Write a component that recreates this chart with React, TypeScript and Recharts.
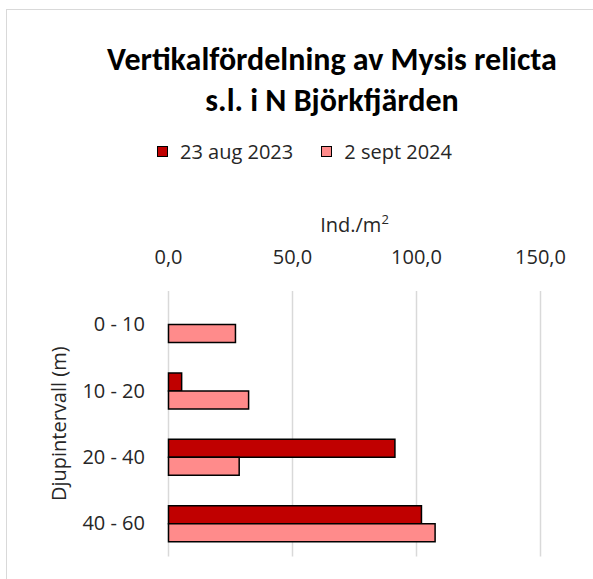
import React from "react";
import { BarChart, Bar, XAxis, YAxis, CartesianGrid, Legend, Label } from "recharts";

const categories = ["0 - 10", "10 - 20", "20 - 40", "40 - 60"];
const aug2023 = [0, 5.3, 91.3, 102.0];
const sept2024 = [27.0, 32.3, 28.5, 107.5];
const xTicks = [0, 50, 100, 150];
const seriesNames = ["23 aug 2023", "2 sept 2024"];
const seriesColors = ["#C00000", "#FF8B8B"];

const data = categories.map((c, i) => ({ cat: c, a: aug2023[i], b: sept2024[i] }));

const FONT = "'Open Sans', 'Liberation Sans', Arial, sans-serif";
const TEXT = "#262626";

const LegendContent = () => (
  <div style={{ display: "flex", alignItems: "center", height: 22, fontFamily: FONT, fontSize: 20, color: TEXT, whiteSpace: "nowrap" }}>
    {seriesNames.map((n, i) => (
      <div key={n} style={{ display: "flex", alignItems: "center", marginRight: i === 0 ? 28 : 0 }}>
        <span style={{ display: "inline-block", width: 9, height: 9, background: seriesColors[i], border: "1.5px solid #000", marginRight: 12 }} />
        <span>{n}</span>
      </div>
    ))}
  </div>
);

export default function App() {
  return (
    <div style={{ position: "absolute", left: 0, top: 0, width: 593, height: 579, overflow: "hidden", background: "#fff" }}>
      <div style={{ position: "absolute", left: 5.5, top: 8.5, width: 700, height: 700, border: "1.5px solid #d9d9d9" }} />
      <div style={{ position: "absolute", left: 82, top: 38.5, width: 500, textAlign: "center", fontFamily: "Calibri, Carlito, 'Liberation Sans', Arial, sans-serif", fontWeight: 700, fontSize: 32, lineHeight: "41px", color: "#000", whiteSpace: "nowrap" }}>
        Vertikalfördelning av Mysis relicta<br />s.l. i N Björkfjärden
      </div>
      <div style={{ position: "absolute", left: 0, top: 0 }}>
        <BarChart
          width={593}
          height={579}
          data={data}
          layout="vertical"
          margin={{ top: 140, right: 52.5, bottom: 22.5, left: 48.5 }}
          barCategoryGap="23.5%"
          barGap={0}
        >
          <CartesianGrid horizontal={false} vertical={true} stroke="#d9d9d9" strokeWidth={1.5} />
          <XAxis
            type="number"
            orientation="top"
            domain={[0, 150]}
            ticks={xTicks}
            height={129}
            axisLine={false}
            tickLine={false}
            tickSize={6}
            tickMargin={21}
            tickFormatter={(v: number) => v.toFixed(1).replace(".", ",")}
            tick={{ fill: TEXT, fontSize: 20, fontFamily: FONT }}
          >
            <Label
              content={(p: any) => {
                const vb = p.viewBox;
                return (
                  <text x={vb.x + vb.width / 2} y={vb.y + 70} textAnchor="middle" fill={TEXT} fontSize={20} fontFamily={FONT}>
                    Ind./m<tspan dy={-8} fontSize={13}>2</tspan>
                  </text>
                );
              }}
            />
          </XAxis>
          <YAxis
            type="category"
            dataKey="cat"
            width={120}
            axisLine={false}
            tickLine={false}
            tickSize={6}
            tickMargin={17.5}
            tick={{ fill: TEXT, fontSize: 20, fontFamily: FONT }}
          >
            <Label
              content={(p: any) => {
                const vb = p.viewBox;
                const x = vb.x + 9.5;
                const y = vb.y + vb.height / 2;
                return (
                  <text x={x} y={y} textAnchor="middle" dominantBaseline="central" transform={`rotate(-90, ${x}, ${y})`} fill={TEXT} fontSize={20} fontFamily={FONT}>
                    Djupintervall (m)
                  </text>
                );
              }}
            />
          </YAxis>
          <Legend verticalAlign="top" align="left" wrapperStyle={{ left: 157, width: 340 }} content={LegendContent} />
          <Bar dataKey="a" name={seriesNames[0]} fill={seriesColors[0]} stroke="#000" strokeWidth={1.5} isAnimationActive={false} />
          <Bar dataKey="b" name={seriesNames[1]} fill={seriesColors[1]} stroke="#000" strokeWidth={1.5} isAnimationActive={false} />
        </BarChart>
      </div>
    </div>
  );
}
